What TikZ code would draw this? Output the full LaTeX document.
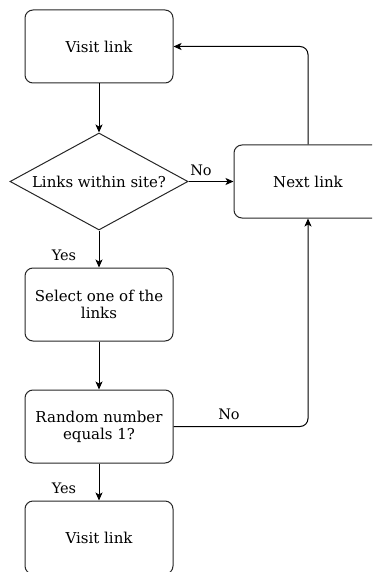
\documentclass[tikz,border=0pt]{standalone}
\usepackage{fontspec}
\setmainfont{DejaVu Serif}
\usetikzlibrary{shapes.geometric,arrows.meta}
\begin{document}
\begin{tikzpicture}[x=1pt,y=-1pt,
  box/.style={draw=black!85, line width=1pt, rounded corners=8pt, minimum width=148pt, minimum height=73pt, align=center, inner sep=0pt, font=\fontsize{15}{17}\selectfont},
  decide/.style={draw=black!85, line width=1pt, diamond, shape aspect=1.835, minimum width=178pt, minimum height=97pt, inner sep=0pt, font=\fontsize{15}{17}\selectfont},
  flow/.style={draw=black, line width=1pt, -{Stealth[length=8pt,width=7pt,inset=2pt]}},
  lbl/.style={font=\fontsize{14.5}{17}\selectfont, inner sep=0pt}]
\useasboundingbox (0,0) rectangle (372,572);
\clip (0,0) rectangle (372,572);

\node[box] (visit) at (99,46.5) {Visit link};
\node[decide] (within) at (99,181.5) {Links within site?};
\node[box] (next) at (308,181.5) {Next link};
\node[box] (select) at (99,304.5) {Select one of the\\links};
\node[box] (random) at (99,426.5) {Random number\\equals 1?};
\node[box] (visit2) at (99,537.5) {Visit link};

\draw[flow] (visit) -- (within);
\draw[flow] (within) -- (select);
\draw[flow] (select) -- (random);
\draw[flow] (random) -- (visit2);
\draw[flow] (within) -- (next);
\draw[flow, rounded corners=8pt] (next.north) |- (visit.east);
\draw[flow, rounded corners=8pt] (random.east) -| (next.south);

\node[lbl] (no1) at (201,170) {No};
\node[lbl] (yes1) at (64,255) {Yes};
\node[lbl] (no2) at (229,414) {No};
\node[lbl] (yes2) at (64,488) {Yes};
\end{tikzpicture}
\end{document}
